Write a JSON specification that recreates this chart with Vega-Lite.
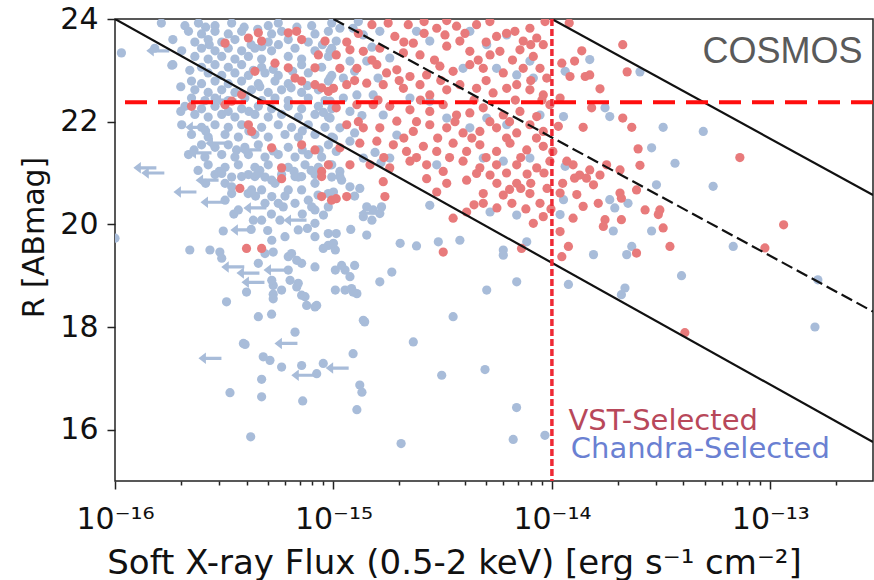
{
  "$schema": "https://vega.github.io/schema/vega-lite/v6.json",
  "width": 758,
  "height": 462,
  "autosize": "none",
  "padding": {"left": 115, "top": 19, "right": 1, "bottom": 99},
  "background": "white",
  "config": {
    "view": {"stroke": "#222222", "strokeWidth": 1.5},
    "axis": {"domain": false, "grid": false, "tickColor": "#222222", "tickWidth": 1.5, "labelFont": "DejaVu Sans", "titleFont": "DejaVu Sans", "labelColor": "#111111", "titleColor": "#111111", "titleFontWeight": "normal"}
  },
  "datasets": {
    "pts": [
      {"f":1.63e-16,"r":23.92,"s":"b"},{"f":2.09e-16,"r":23.87,"s":"b"},{"f":2.41e-16,"r":23.92,"s":"b"},{"f":2.87e-16,"r":23.87,"s":"b"},{"f":3.42e-16,"r":23.92,"s":"b"},{"f":5.03e-16,"r":23.87,"s":"b"},{"f":5.59e-16,"r":23.92,"s":"b"},{"f":7.95e-16,"r":23.87,"s":"b"},{"f":9.82e-16,"r":23.92,"s":"b"},
      {"f":2.17e-16,"r":23.76,"s":"b"},{"f":2.49e-16,"r":23.71,"s":"b"},{"f":2.87e-16,"r":23.76,"s":"b"},{"f":3.30e-16,"r":23.71,"s":"b"},{"f":3.80e-16,"r":23.76,"s":"b"},{"f":5.21e-16,"r":23.71,"s":"b"},{"f":5.79e-16,"r":23.76,"s":"b"},{"f":8.23e-16,"r":23.71,"s":"b"},{"f":9.48e-16,"r":23.76,"s":"b"},
      {"f":1.84e-16,"r":23.60,"s":"b"},{"f":2.32e-16,"r":23.55,"s":"b"},{"f":2.67e-16,"r":23.60,"s":"b"},{"f":3.08e-16,"r":23.55,"s":"b"},{"f":3.54e-16,"r":23.60,"s":"b"},{"f":5.03e-16,"r":23.55,"s":"b"},{"f":6.21e-16,"r":23.60,"s":"b"},{"f":7.67e-16,"r":23.55,"s":"b"},
      {"f":1.52e-16,"r":23.43,"s":"b"},{"f":2.02e-16,"r":23.38,"s":"b"},{"f":2.49e-16,"r":23.43,"s":"b"},{"f":2.87e-16,"r":23.38,"s":"b"},{"f":3.30e-16,"r":23.43,"s":"b"},{"f":3.80e-16,"r":23.38,"s":"b"},{"f":4.37e-16,"r":23.43,"s":"b"},{"f":5.21e-16,"r":23.38,"s":"b"},{"f":6.67e-16,"r":23.43,"s":"b"},{"f":8.23e-16,"r":23.38,"s":"b"},{"f":9.82e-16,"r":23.43,"s":"b"},
      {"f":2.32e-16,"r":23.27,"s":"b"},{"f":2.67e-16,"r":23.22,"s":"b"},{"f":3.08e-16,"r":23.27,"s":"b"},{"f":3.54e-16,"r":23.22,"s":"b"},{"f":4.08e-16,"r":23.27,"s":"b"},{"f":4.69e-16,"r":23.22,"s":"b"},{"f":6.21e-16,"r":23.27,"s":"b"},{"f":7.15e-16,"r":23.22,"s":"b"},{"f":9.48e-16,"r":23.27,"s":"b"},
      {"f":1.84e-16,"r":23.11,"s":"b"},{"f":2.49e-16,"r":23.06,"s":"b"},{"f":2.87e-16,"r":23.11,"s":"b"},{"f":3.30e-16,"r":23.06,"s":"b"},{"f":3.80e-16,"r":23.11,"s":"b"},{"f":4.69e-16,"r":23.06,"s":"b"},{"f":7.15e-16,"r":23.11,"s":"b"},{"f":8.83e-16,"r":23.06,"s":"b"},
      {"f":2.67e-16,"r":22.95,"s":"b"},{"f":3.08e-16,"r":22.90,"s":"b"},{"f":3.54e-16,"r":22.95,"s":"b"},{"f":4.08e-16,"r":22.90,"s":"b"},{"f":4.86e-16,"r":22.95,"s":"b"},{"f":5.59e-16,"r":22.90,"s":"b"},{"f":7.67e-16,"r":22.95,"s":"b"},{"f":9.82e-16,"r":22.90,"s":"b"},
      {"f":2.24e-16,"r":22.79,"s":"b"},{"f":2.49e-16,"r":22.74,"s":"b"},{"f":2.87e-16,"r":22.79,"s":"b"},{"f":3.30e-16,"r":22.74,"s":"b"},{"f":3.80e-16,"r":22.79,"s":"b"},{"f":4.53e-16,"r":22.74,"s":"b"},{"f":5.40e-16,"r":22.79,"s":"b"},{"f":6.21e-16,"r":22.74,"s":"b"},{"f":9.48e-16,"r":22.79,"s":"b"},
      {"f":2.32e-16,"r":22.62,"s":"b"},{"f":2.67e-16,"r":22.57,"s":"b"},{"f":3.08e-16,"r":22.62,"s":"b"},{"f":3.54e-16,"r":22.57,"s":"b"},{"f":4.22e-16,"r":22.62,"s":"b"},{"f":5.03e-16,"r":22.57,"s":"b"},{"f":5.79e-16,"r":22.62,"s":"b"},{"f":7.15e-16,"r":22.57,"s":"b"},{"f":8.53e-16,"r":22.62,"s":"b"},
      {"f":2.24e-16,"r":22.46,"s":"b"},{"f":2.58e-16,"r":22.41,"s":"b"},{"f":2.87e-16,"r":22.46,"s":"b"},{"f":3.30e-16,"r":22.41,"s":"b"},{"f":3.93e-16,"r":22.46,"s":"b"},{"f":4.69e-16,"r":22.41,"s":"b"},{"f":5.40e-16,"r":22.46,"s":"b"},{"f":6.21e-16,"r":22.41,"s":"b"},{"f":7.67e-16,"r":22.46,"s":"b"},{"f":9.15e-16,"r":22.41,"s":"b"},
      {"f":2.09e-16,"r":22.30,"s":"b"},{"f":2.49e-16,"r":22.25,"s":"b"},{"f":2.87e-16,"r":22.30,"s":"b"},{"f":3.80e-16,"r":22.25,"s":"b"},{"f":4.53e-16,"r":22.30,"s":"b"},{"f":5.21e-16,"r":22.25,"s":"b"},{"f":6.21e-16,"r":22.30,"s":"b"},{"f":7.15e-16,"r":22.25,"s":"b"},{"f":8.53e-16,"r":22.30,"s":"b"},{"f":9.82e-16,"r":22.25,"s":"b"},
      {"f":2.32e-16,"r":22.14,"s":"b"},{"f":2.67e-16,"r":22.09,"s":"b"},{"f":3.08e-16,"r":22.14,"s":"b"},{"f":3.54e-16,"r":22.09,"s":"b"},{"f":4.37e-16,"r":22.14,"s":"b"},{"f":5.03e-16,"r":22.09,"s":"b"},{"f":5.79e-16,"r":22.14,"s":"b"},{"f":6.91e-16,"r":22.09,"s":"b"},{"f":8.23e-16,"r":22.14,"s":"b"},{"f":9.48e-16,"r":22.09,"s":"b"},
      {"f":2.02e-16,"r":21.94,"s":"b"},{"f":2.49e-16,"r":21.89,"s":"b"},{"f":2.87e-16,"r":21.94,"s":"b"},{"f":3.30e-16,"r":21.89,"s":"b"},{"f":3.80e-16,"r":21.94,"s":"b"},{"f":4.69e-16,"r":21.89,"s":"b"},{"f":5.59e-16,"r":21.94,"s":"b"},{"f":6.43e-16,"r":21.89,"s":"b"},{"f":7.67e-16,"r":21.94,"s":"b"},{"f":9.15e-16,"r":21.89,"s":"b"},
      {"f":2.24e-16,"r":21.75,"s":"b"},{"f":2.67e-16,"r":21.70,"s":"b"},{"f":3.19e-16,"r":21.75,"s":"b"},{"f":3.67e-16,"r":21.70,"s":"b"},{"f":4.37e-16,"r":21.75,"s":"b"},{"f":5.03e-16,"r":21.70,"s":"b"},{"f":6.00e-16,"r":21.75,"s":"b"},{"f":6.91e-16,"r":21.70,"s":"b"},{"f":8.23e-16,"r":21.75,"s":"b"},{"f":9.82e-16,"r":21.70,"s":"b"},
      {"f":2.49e-16,"r":21.55,"s":"b"},{"f":2.87e-16,"r":21.50,"s":"b"},{"f":3.30e-16,"r":21.55,"s":"b"},{"f":3.93e-16,"r":21.50,"s":"b"},{"f":4.53e-16,"r":21.55,"s":"b"},{"f":6.21e-16,"r":21.50,"s":"b"},{"f":9.48e-16,"r":21.55,"s":"b"},
      {"f":2.17e-16,"r":21.36,"s":"b"},{"f":2.58e-16,"r":21.31,"s":"b"},{"f":3.08e-16,"r":21.36,"s":"b"},{"f":3.54e-16,"r":21.31,"s":"b"},{"f":4.08e-16,"r":21.36,"s":"b"},{"f":4.86e-16,"r":21.31,"s":"b"},{"f":5.59e-16,"r":21.36,"s":"b"},{"f":6.67e-16,"r":21.31,"s":"b"},{"f":7.67e-16,"r":21.36,"s":"b"},{"f":8.83e-16,"r":21.31,"s":"b"},
      {"f":2.67e-16,"r":21.16,"s":"b"},{"f":3.19e-16,"r":21.11,"s":"b"},{"f":3.67e-16,"r":21.16,"s":"b"},{"f":4.37e-16,"r":21.11,"s":"b"},{"f":5.03e-16,"r":21.16,"s":"b"},{"f":6.21e-16,"r":21.11,"s":"b"},{"f":7.41e-16,"r":21.16,"s":"b"},{"f":8.53e-16,"r":21.11,"s":"b"},{"f":9.82e-16,"r":21.16,"s":"b"},
      {"f":2.87e-16,"r":20.97,"s":"b"},{"f":3.42e-16,"r":20.92,"s":"b"},{"f":4.08e-16,"r":20.97,"s":"b"},{"f":4.86e-16,"r":20.92,"s":"b"},{"f":5.79e-16,"r":20.97,"s":"b"},{"f":6.91e-16,"r":20.92,"s":"b"},{"f":8.23e-16,"r":20.97,"s":"b"},{"f":9.82e-16,"r":20.92,"s":"b"},
      {"f":2.6e-16,"r":23.84,"s":"b"},{"f":3.9e-16,"r":23.84,"s":"b"},{"f":4.5e-16,"r":23.8,"s":"b"},{"f":6.8e-16,"r":23.84,"s":"b"},{"f":2.7e-16,"r":23.5,"s":"b"},{"f":4.2e-16,"r":23.5,"s":"b"},{"f":4.7e-16,"r":23.46,"s":"b"},{"f":5.6e-16,"r":23.5,"s":"b"},{"f":8.9e-16,"r":23.5,"s":"b"},{"f":2.2e-16,"r":23.0,"s":"b"},{"f":4.3e-16,"r":23.0,"s":"b"},{"f":5.3e-16,"r":23.02,"s":"b"},{"f":6.5e-16,"r":22.98,"s":"b"},{"f":2.0e-16,"r":22.68,"s":"b"},{"f":4.6e-16,"r":22.68,"s":"b"},{"f":6.4e-16,"r":22.66,"s":"b"},{"f":7.6e-16,"r":22.7,"s":"b"},{"f":2.0e-16,"r":22.2,"s":"b"},{"f":3.3e-16,"r":22.2,"s":"b"},{"f":4.1e-16,"r":22.2,"s":"b"},{"f":9.0e-16,"r":22.18,"s":"b"},{"f":2.6e-16,"r":21.82,"s":"b"},{"f":4.1e-16,"r":21.82,"s":"b"},{"f":7.2e-16,"r":21.82,"s":"b"},{"f":2.3e-16,"r":21.45,"s":"b"},{"f":3.6e-16,"r":21.45,"s":"b"},{"f":5.3e-16,"r":21.43,"s":"b"},{"f":7.2e-16,"r":21.45,"s":"b"},{"f":8.6e-16,"r":21.45,"s":"b"},{"f":2.4e-16,"r":21.05,"s":"b"},{"f":3.0e-16,"r":21.03,"s":"b"},{"f":4.6e-16,"r":21.05,"s":"b"},{"f":6.6e-16,"r":21.03,"s":"b"},{"f":7.9e-16,"r":21.05,"s":"b"},{"f":2.6e-16,"r":20.8,"s":"b"},
      {"f":3.5e-16,"r":20.2,"s":"b"},{"f":5.2e-16,"r":20.2,"s":"b"},{"f":7.2e-16,"r":20.2,"s":"b"},{"f":9.0e-16,"r":20.18,"s":"b"},{"f":4.2e-16,"r":19.9,"s":"b"},{"f":5.0e-16,"r":19.88,"s":"b"},{"f":7.6e-16,"r":19.92,"s":"b"},{"f":1.2e-15,"r":19.9,"s":"b"},{"f":4.4e-16,"r":20.55,"s":"b"},{"f":6.0e-16,"r":20.55,"s":"b"},{"f":8.5e-16,"r":20.57,"s":"b"},{"f":1.25e-15,"r":20.55,"s":"b"},{"f":1.65e-15,"r":21.2,"s":"b"},
      {"f":1.07e-16,"r":23.34,"s":"b"},{"f":1.0e-16,"r":19.73,"s":"b"},{"f":1.82e-16,"r":23.10,"s":"b"},
      {"f":1.07e-15,"r":23.82,"s":"b"},{"f":1.23e-15,"r":23.82,"s":"b"},{"f":1.03e-15,"r":23.57,"s":"b"},{"f":1.37e-15,"r":23.69,"s":"b"},{"f":1.63e-15,"r":23.76,"s":"b"},{"f":1.19e-15,"r":23.18,"s":"b"},{"f":1.42e-15,"r":23.18,"s":"b"},{"f":9.65e-16,"r":22.85,"s":"b"},{"f":1.11e-15,"r":22.85,"s":"b"},{"f":1.28e-15,"r":22.52,"s":"b"},{"f":1.52e-15,"r":22.52,"s":"b"},{"f":1.81e-15,"r":23.24,"s":"b"},{"f":2.40e-15,"r":23.76,"s":"b"},{"f":2.76e-15,"r":23.57,"s":"b"},{"f":3.92e-15,"r":23.04,"s":"b"},{"f":5.03e-15,"r":23.50,"s":"b"},{"f":6.21e-15,"r":23.69,"s":"b"},{"f":6.90e-15,"r":22.91,"s":"b"},{"f":7.93e-15,"r":23.18,"s":"b"},{"f":2.24e-15,"r":22.46,"s":"b"},{"f":2.76e-15,"r":22.40,"s":"b"},{"f":1.69e-15,"r":22.13,"s":"b"},{"f":1.07e-15,"r":21.88,"s":"b"},{"f":9.65e-16,"r":22.40,"s":"b"},{"f":1.95e-15,"r":21.74,"s":"b"},{"f":3.30e-15,"r":22.07,"s":"b"},{"f":4.21e-15,"r":21.88,"s":"b"},{"f":5.03e-15,"r":22.07,"s":"b"},{"f":6.21e-15,"r":21.94,"s":"b"},{"f":1.37e-15,"r":21.29,"s":"b"},{"f":1.81e-15,"r":21.29,"s":"b"},{"f":2.97e-15,"r":21.16,"s":"b"},{"f":4.85e-15,"r":21.29,"s":"b"},{"f":5.99e-15,"r":21.23,"s":"b"},{"f":7.93e-15,"r":21.29,"s":"b"},{"f":8.82e-15,"r":22.13,"s":"b"},{"f":8.22e-15,"r":22.85,"s":"b"},{"f":5.58e-15,"r":23.04,"s":"b"},{"f":4.21e-15,"r":23.76,"s":"b"},{"f":1.03e-15,"r":21.42,"s":"b"},
      {"f":9.65e-16,"r":23.37,"s":"b"},{"f":1.11e-15,"r":22.46,"s":"b"},{"f":9.65e-16,"r":22.07,"s":"b"},{"f":1.19e-15,"r":22.20,"s":"b"},{"f":1.0e-15,"r":21.68,"s":"b"},{"f":1.19e-15,"r":21.62,"s":"b"},{"f":9.65e-16,"r":21.16,"s":"b"},{"f":1.07e-15,"r":21.03,"s":"b"},{"f":1.3e-15,"r":23.95,"s":"b"},{"f":1.5e-15,"r":23.45,"s":"b"},{"f":1.25e-15,"r":22.98,"s":"b"},{"f":1.6e-15,"r":22.85,"s":"b"},{"f":1.35e-15,"r":22.12,"s":"b"},{"f":1.25e-15,"r":21.78,"s":"b"},{"f":1.55e-15,"r":21.4,"s":"b"},
      {"f":3.67e-16,"r":20.28,"s":"b"},{"f":4.30e-16,"r":20.08,"s":"b"},{"f":4.69e-16,"r":20.08,"s":"b"},{"f":5.69e-16,"r":20.08,"s":"b"},{"f":3.13e-16,"r":19.87,"s":"b"},{"f":2.20e-16,"r":19.50,"s":"b"},{"f":2.72e-16,"r":19.50,"s":"b"},{"f":3.02e-16,"r":19.46,"s":"b"},{"f":3.08e-16,"r":19.34,"s":"b"},{"f":5.30e-16,"r":19.46,"s":"b"},{"f":5.89e-16,"r":20.34,"s":"b"},{"f":8.23e-16,"r":19.17,"s":"b"},{"f":1.02e-15,"r":19.50,"s":"b"},{"f":9.47e-16,"r":19.59,"s":"b"},{"f":6.21e-16,"r":19.37,"s":"b"},{"f":6.79e-16,"r":19.30,"s":"b"},{"f":6.33e-16,"r":18.91,"s":"b"},{"f":6.79e-16,"r":18.78,"s":"b"},{"f":5.30e-16,"r":18.81,"s":"b"},{"f":5.30e-16,"r":18.64,"s":"b"},{"f":8.98e-16,"r":19.53,"s":"b"},
      {"f":3.08e-16,"r":20.99,"s":"b"},{"f":3.19e-16,"r":20.80,"s":"b"},{"f":3.42e-16,"r":20.60,"s":"b"},{"f":4.07e-16,"r":20.60,"s":"b"},{"f":4.69e-16,"r":20.67,"s":"b"},{"f":5.22e-16,"r":20.86,"s":"b"},{"f":4.37e-16,"r":20.93,"s":"b"},{"f":7.15e-16,"r":20.67,"s":"b"},{"f":7.67e-16,"r":20.47,"s":"b"},{"f":8.23e-16,"r":20.28,"s":"b"},{"f":6.67e-16,"r":20.93,"s":"b"},{"f":4.86e-16,"r":20.41,"s":"b"},{"f":5.59e-16,"r":20.41,"s":"b"},{"f":3.19e-16,"r":20.47,"s":"b"},{"f":8.23e-16,"r":19.76,"s":"b"},{"f":9.47e-16,"r":19.82,"s":"b"},{"f":1.0e-15,"r":19.63,"s":"b"},{"f":1.02e-15,"r":19.11,"s":"b"},{"f":1.13e-15,"r":19.11,"s":"b"},{"f":1.02e-15,"r":18.72,"s":"b"},{"f":1.13e-15,"r":18.72,"s":"b"},
      {"f":3.80e-16,"r":20.93,"s":"b"},{"f":4.53e-16,"r":20.99,"s":"b"},{"f":5.40e-16,"r":20.80,"s":"b"},{"f":6.21e-16,"r":20.67,"s":"b"},{"f":7.15e-16,"r":20.93,"s":"b"},{"f":8.23e-16,"r":20.80,"s":"b"},{"f":9.47e-16,"r":20.60,"s":"b"},{"f":1.09e-15,"r":20.86,"s":"b"},{"f":3.42e-16,"r":20.73,"s":"b"},{"f":4.22e-16,"r":20.67,"s":"b"},{"f":5.22e-16,"r":20.54,"s":"b"},{"f":6.67e-16,"r":20.41,"s":"b"},{"f":7.95e-16,"r":20.34,"s":"b"},{"f":9.47e-16,"r":20.34,"s":"b"},{"f":8.23e-16,"r":20.02,"s":"b"},{"f":6.90e-16,"r":19.89,"s":"b"},{"f":6.00e-16,"r":19.76,"s":"b"},{"f":5.22e-16,"r":19.69,"s":"b"},{"f":6.43e-16,"r":19.43,"s":"b"},{"f":7.15e-16,"r":19.24,"s":"b"},{"f":6.21e-16,"r":19.11,"s":"b"},{"f":5.22e-16,"r":18.91,"s":"b"},{"f":5.79e-16,"r":18.72,"s":"b"},{"f":6.90e-16,"r":18.85,"s":"b"},{"f":7.41e-16,"r":18.59,"s":"b"},{"f":8.23e-16,"r":18.39,"s":"b"},{"f":4.53e-16,"r":19.24,"s":"b"},{"f":4.86e-16,"r":19.43,"s":"b"},
      {"f":1.07e-15,"r":20.93,"s":"b"},{"f":1.19e-15,"r":20.73,"s":"b"},{"f":1.32e-15,"r":20.70,"s":"b"},{"f":1.0e-15,"r":20.63,"s":"b"},{"f":1.42e-15,"r":20.34,"s":"b"},{"f":1.52e-15,"r":20.28,"s":"b"},{"f":1.63e-15,"r":20.21,"s":"b"},{"f":1.37e-15,"r":20.15,"s":"b"},{"f":1.50e-15,"r":20.08,"s":"b"},{"f":1.66e-15,"r":20.34,"s":"b"},{"f":1.03e-15,"r":19.82,"s":"b"},{"f":1.42e-15,"r":19.79,"s":"b"},{"f":2.02e-15,"r":19.63,"s":"b"},{"f":2.40e-15,"r":19.58,"s":"b"},{"f":3.02e-15,"r":19.66,"s":"b"},{"f":3.79e-15,"r":19.69,"s":"b"},{"f":2.76e-15,"r":20.37,"s":"b"},{"f":5.99e-15,"r":19.50,"s":"b"},{"f":5.99e-15,"r":19.40,"s":"b"},{"f":5.21e-15,"r":20.24,"s":"b"},{"f":6.90e-15,"r":20.18,"s":"b"},{"f":7.67e-15,"r":19.66,"s":"b"},{"f":1.09e-15,"r":19.20,"s":"b"},{"f":1.25e-15,"r":19.20,"s":"b"},{"f":1.19e-15,"r":18.98,"s":"b"},{"f":1.85e-15,"r":19.07,"s":"b"},{"f":1.63e-15,"r":18.88,"s":"b"},{"f":1.21e-15,"r":18.75,"s":"b"},{"f":1.28e-15,"r":18.65,"s":"b"},{"f":6.90e-15,"r":18.88,"s":"b"},{"f":5.03e-15,"r":18.72,"s":"b"},{"f":1.37e-15,"r":18.13,"s":"b"},
      {"f":1.39e-15,"r":18.10,"s":"b"},{"f":6.67e-16,"r":17.90,"s":"b"},{"f":3.87e-16,"r":17.68,"s":"b"},{"f":2.32e-15,"r":17.71,"s":"b"},{"f":1.23e-15,"r":17.48,"s":"b"},{"f":4.77e-16,"r":17.42,"s":"b"},{"f":5.12e-16,"r":17.35,"s":"b"},{"f":5.79e-16,"r":17.22,"s":"b"},{"f":7.15e-16,"r":17.25,"s":"b"},{"f":8.38e-16,"r":17.09,"s":"b"},{"f":8.98e-16,"r":17.29,"s":"b"},{"f":4.94e-15,"r":17.17,"s":"b"},{"f":4.69e-16,"r":16.98,"s":"b"},{"f":1.32e-15,"r":16.87,"s":"b"},{"f":1.35e-15,"r":16.73,"s":"b"},{"f":3.36e-16,"r":16.72,"s":"b"},{"f":4.69e-16,"r":16.64,"s":"b"},{"f":7.23e-16,"r":16.56,"s":"b"},{"f":1.28e-15,"r":16.39,"s":"b"},{"f":4.18e-16,"r":15.86,"s":"b"},{"f":2.04e-15,"r":15.73,"s":"b"},
      {"f":3.53e-15,"r":18.20,"s":"b"},{"f":6.89e-15,"r":16.43,"s":"b"},{"f":6.65e-15,"r":15.81,"s":"b"},{"f":9.29e-15,"r":15.89,"s":"b"},{"f":3.13e-15,"r":17.06,"s":"b"},
      {"f":3.24e-16,"r":18.49,"s":"b"},{"f":4.0e-16,"r":18.68,"s":"b"},{"f":5.3e-16,"r":18.55,"s":"b"},{"f":7.15e-16,"r":18.62,"s":"b"},{"f":7.54e-16,"r":18.42,"s":"b"},{"f":8.38e-16,"r":18.42,"s":"b"},{"f":1.23e-15,"r":18.68,"s":"b"},{"f":4.53e-16,"r":18.20,"s":"b"},{"f":5.21e-16,"r":18.25,"s":"b"},{"f":3.94e-16,"r":17.66,"s":"b"},
      {"f":1.49e-14,"r":23.21,"s":"b"},{"f":2.53e-14,"r":22.97,"s":"b"},{"f":1.15e-14,"r":22.98,"s":"b"},{"f":1.75e-14,"r":22.27,"s":"b"},{"f":1.84e-14,"r":22.10,"s":"b"},{"f":1.13e-14,"r":22.10,"s":"b"},{"f":3.23e-14,"r":21.89,"s":"b"},{"f":4.93e-14,"r":21.81,"s":"b"},{"f":2.86e-14,"r":21.49,"s":"b"},{"f":3.66e-14,"r":21.19,"s":"b"},{"f":1.15e-14,"r":21.13,"s":"b"},{"f":5.47e-14,"r":20.74,"s":"b"},{"f":3.01e-14,"r":20.77,"s":"b"},{"f":1.13e-14,"r":20.48,"s":"b"},{"f":1.84e-14,"r":20.48,"s":"b"},{"f":1.94e-14,"r":20.32,"s":"b"},{"f":2.23e-14,"r":20.41,"s":"b"},{"f":1.09e-14,"r":20.19,"s":"b"},{"f":1.91e-14,"r":19.87,"s":"b"},{"f":2.86e-14,"r":19.87,"s":"b"},{"f":2.32e-14,"r":19.57,"s":"b"},{"f":2.20e-14,"r":19.41,"s":"b"},{"f":1.55e-14,"r":19.41,"s":"b"},{"f":6.76e-14,"r":19.57,"s":"b"},{"f":3.92e-14,"r":19.0,"s":"b"},{"f":1.19e-14,"r":18.83,"s":"b"},{"f":2.16e-14,"r":18.76,"s":"b"},{"f":2.08e-14,"r":18.63,"s":"b"},{"f":1.65e-13,"r":18.92,"s":"b"},{"f":1.6e-13,"r":18.0,"s":"b"},
      {"f":3.19e-16,"r":23.53,"s":"r"},{"f":4.08e-16,"r":23.63,"s":"r"},{"f":4.53e-16,"r":23.73,"s":"r"},{"f":4.69e-16,"r":23.57,"s":"r"},{"f":6.21e-16,"r":23.73,"s":"r"},{"f":6.78e-16,"r":23.76,"s":"r"},{"f":7.15e-16,"r":23.60,"s":"r"},{"f":8.53e-16,"r":23.30,"s":"r"},{"f":9.15e-16,"r":23.57,"s":"r"},{"f":5.40e-16,"r":23.14,"s":"r"},{"f":6.21e-16,"r":23.05,"s":"r"},{"f":8.23e-16,"r":23.05,"s":"r"},{"f":4.37e-16,"r":22.98,"s":"r"},{"f":6.67e-16,"r":22.85,"s":"r"},{"f":7.15e-16,"r":22.79,"s":"r"},{"f":8.23e-16,"r":22.72,"s":"r"},{"f":8.83e-16,"r":22.66,"s":"r"},{"f":9.48e-16,"r":22.59,"s":"r"},{"f":3.42e-16,"r":22.40,"s":"r"},{"f":3.19e-16,"r":22.33,"s":"r"},{"f":2.24e-16,"r":22.30,"s":"r"},{"f":4.08e-16,"r":21.94,"s":"r"},{"f":4.22e-16,"r":21.81,"s":"r"},{"f":7.15e-16,"r":21.55,"s":"r"},{"f":8.23e-16,"r":21.45,"s":"r"},{"f":5.21e-16,"r":21.49,"s":"r"},{"f":5.79e-16,"r":21.10,"s":"r"},{"f":8.83e-16,"r":21.03,"s":"r"},{"f":9.48e-16,"r":21.16,"s":"r"},{"f":3.80e-16,"r":22.53,"s":"r"},
      {"f":1.50e-15,"r":23.89,"s":"r"},{"f":1.78e-15,"r":23.92,"s":"r"},{"f":2.20e-15,"r":23.89,"s":"r"},{"f":2.97e-15,"r":23.82,"s":"r"},{"f":3.24e-15,"r":23.69,"s":"r"},{"f":3.66e-15,"r":23.86,"s":"r"},{"f":4.52e-15,"r":23.89,"s":"r"},{"f":5.58e-15,"r":23.66,"s":"r"},{"f":6.77e-15,"r":23.76,"s":"r"},{"f":7.93e-15,"r":23.82,"s":"r"},{"f":8.52e-15,"r":23.63,"s":"r"},{"f":2.32e-15,"r":23.53,"s":"r"},{"f":1.91e-15,"r":23.66,"s":"r"},
      {"f":1.15e-15,"r":23.55,"s":"r"},{"f":2.1e-15,"r":23.55,"s":"r"},{"f":5.0e-15,"r":23.55,"s":"r"},{"f":8.0e-15,"r":23.5,"s":"r"},{"f":2.6e-15,"r":23.95,"s":"r"},{"f":3.3e-15,"r":23.97,"s":"r"},{"f":5.2e-15,"r":23.95,"s":"r"},{"f":9.3e-15,"r":23.95,"s":"r"},{"f":1.2e-14,"r":23.92,"s":"r"},{"f":6.2e-15,"r":21.0,"s":"r"},{"f":7.7e-15,"r":20.98,"s":"r"},{"f":9.2e-15,"r":21.0,"s":"r"},{"f":7.2e-15,"r":20.7,"s":"r"},{"f":9.5e-15,"r":20.7,"s":"r"},{"f":6.4e-15,"r":20.68,"s":"r"},{"f":7.6e-15,"r":20.3,"s":"r"},{"f":9.9e-15,"r":20.3,"s":"r"},{"f":5.6e-15,"r":20.32,"s":"r"},
      {"f":1.03e-15,"r":23.30,"s":"r"},{"f":1.19e-15,"r":23.40,"s":"r"},{"f":1.37e-15,"r":23.37,"s":"r"},{"f":1.63e-15,"r":23.43,"s":"r"},{"f":2.09e-15,"r":23.34,"s":"r"},{"f":2.49e-15,"r":23.30,"s":"r"},{"f":3.30e-15,"r":23.47,"s":"r"},{"f":3.79e-15,"r":23.57,"s":"r"},{"f":4.21e-15,"r":23.37,"s":"r"},{"f":5.21e-15,"r":23.30,"s":"r"},{"f":5.78e-15,"r":23.37,"s":"r"},{"f":7.14e-15,"r":23.40,"s":"r"},{"f":8.22e-15,"r":23.27,"s":"r"},{"f":9.13e-15,"r":23.50,"s":"r"},{"f":7.39e-15,"r":23.57,"s":"r"},
      {"f":1.07e-15,"r":23.04,"s":"r"},{"f":1.28e-15,"r":23.04,"s":"r"},{"f":1.58e-15,"r":23.11,"s":"r"},{"f":1.75e-15,"r":22.95,"s":"r"},{"f":1.95e-15,"r":23.01,"s":"r"},{"f":2.24e-15,"r":22.88,"s":"r"},{"f":2.67e-15,"r":22.91,"s":"r"},{"f":3.07e-15,"r":23.08,"s":"r"},{"f":3.53e-15,"r":22.98,"s":"r"},{"f":4.21e-15,"r":23.11,"s":"r"},{"f":4.85e-15,"r":23.04,"s":"r"},{"f":5.99e-15,"r":22.95,"s":"r"},{"f":7.39e-15,"r":23.04,"s":"r"},{"f":8.82e-15,"r":23.04,"s":"r"},{"f":9.47e-15,"r":22.85,"s":"r"},
      {"f":1.0e-15,"r":22.65,"s":"r"},{"f":1.15e-15,"r":22.72,"s":"r"},{"f":1.42e-15,"r":22.75,"s":"r"},{"f":1.69e-15,"r":22.72,"s":"r"},{"f":2.09e-15,"r":22.65,"s":"r"},{"f":2.49e-15,"r":22.72,"s":"r"},{"f":2.76e-15,"r":22.52,"s":"r"},{"f":3.30e-15,"r":22.62,"s":"r"},{"f":3.79e-15,"r":22.72,"s":"r"},{"f":4.52e-15,"r":22.65,"s":"r"},{"f":5.38e-15,"r":22.56,"s":"r"},{"f":6.21e-15,"r":22.65,"s":"r"},{"f":6.90e-15,"r":22.72,"s":"r"},{"f":7.93e-15,"r":22.62,"s":"r"},{"f":9.13e-15,"r":22.52,"s":"r"},
      {"f":1.03e-15,"r":22.27,"s":"r"},{"f":1.28e-15,"r":22.33,"s":"r"},{"f":1.52e-15,"r":22.33,"s":"r"},{"f":1.81e-15,"r":22.30,"s":"r"},{"f":2.24e-15,"r":22.23,"s":"r"},{"f":2.76e-15,"r":22.20,"s":"r"},{"f":3.18e-15,"r":22.33,"s":"r"},{"f":3.66e-15,"r":22.13,"s":"r"},{"f":4.21e-15,"r":22.17,"s":"r"},{"f":4.85e-15,"r":22.27,"s":"r"},{"f":5.99e-15,"r":22.13,"s":"r"},{"f":7.14e-15,"r":22.20,"s":"r"},{"f":8.52e-15,"r":22.10,"s":"r"},{"f":9.79e-15,"r":22.33,"s":"r"},
      {"f":1.15e-15,"r":21.94,"s":"r"},{"f":1.37e-15,"r":21.88,"s":"r"},{"f":1.63e-15,"r":21.88,"s":"r"},{"f":1.95e-15,"r":22.01,"s":"r"},{"f":2.32e-15,"r":21.81,"s":"r"},{"f":2.76e-15,"r":21.94,"s":"r"},{"f":3.30e-15,"r":21.88,"s":"r"},{"f":3.92e-15,"r":21.78,"s":"r"},{"f":4.68e-15,"r":21.81,"s":"r"},{"f":5.58e-15,"r":21.88,"s":"r"},{"f":6.90e-15,"r":21.78,"s":"r"},{"f":7.93e-15,"r":21.94,"s":"r"},{"f":9.13e-15,"r":21.81,"s":"r"},
      {"f":1.07e-15,"r":21.49,"s":"r"},{"f":1.32e-15,"r":21.58,"s":"r"},{"f":1.58e-15,"r":21.62,"s":"r"},{"f":1.88e-15,"r":21.55,"s":"r"},{"f":2.16e-15,"r":21.42,"s":"r"},{"f":2.58e-15,"r":21.52,"s":"r"},{"f":2.97e-15,"r":21.42,"s":"r"},{"f":3.53e-15,"r":21.58,"s":"r"},{"f":4.07e-15,"r":21.42,"s":"r"},{"f":4.68e-15,"r":21.55,"s":"r"},{"f":5.58e-15,"r":21.42,"s":"r"},{"f":6.43e-15,"r":21.58,"s":"r"},{"f":7.67e-15,"r":21.45,"s":"r"},{"f":9.13e-15,"r":21.52,"s":"r"},{"f":1.01e-14,"r":21.42,"s":"r"},
      {"f":1.19e-15,"r":21.16,"s":"r"},{"f":1.47e-15,"r":21.16,"s":"r"},{"f":1.81e-15,"r":21.10,"s":"r"},{"f":2.24e-15,"r":21.23,"s":"r"},{"f":2.67e-15,"r":21.16,"s":"r"},{"f":3.18e-15,"r":21.03,"s":"r"},{"f":3.92e-15,"r":21.23,"s":"r"},{"f":4.68e-15,"r":21.10,"s":"r"},{"f":5.58e-15,"r":21.16,"s":"r"},{"f":6.90e-15,"r":21.16,"s":"r"},{"f":8.52e-15,"r":21.10,"s":"r"},{"f":9.79e-15,"r":21.23,"s":"r"},
      {"f":1.3e-15,"r":23.72,"s":"r"},{"f":2.6e-15,"r":23.72,"s":"r"},{"f":4.0e-15,"r":23.72,"s":"r"},{"f":6.2e-15,"r":23.72,"s":"r"},{"f":1.5e-15,"r":23.2,"s":"r"},{"f":2.9e-15,"r":23.2,"s":"r"},{"f":4.6e-15,"r":23.2,"s":"r"},{"f":6.6e-15,"r":23.2,"s":"r"},{"f":1.25e-15,"r":22.8,"s":"r"},{"f":2.0e-15,"r":22.8,"s":"r"},{"f":3.1e-15,"r":22.8,"s":"r"},{"f":5.0e-15,"r":22.8,"s":"r"},{"f":8.0e-15,"r":22.8,"s":"r"},{"f":1.6e-15,"r":22.42,"s":"r"},{"f":2.5e-15,"r":22.42,"s":"r"},{"f":4.4e-15,"r":22.42,"s":"r"},{"f":6.8e-15,"r":22.42,"s":"r"},{"f":9.0e-15,"r":22.42,"s":"r"},{"f":1.3e-15,"r":22.0,"s":"r"},{"f":2.4e-15,"r":22.0,"s":"r"},{"f":3.6e-15,"r":22.0,"s":"r"},{"f":5.2e-15,"r":22.0,"s":"r"},{"f":6.4e-15,"r":22.0,"s":"r"},{"f":2.1e-15,"r":21.68,"s":"r"},{"f":3.0e-15,"r":21.68,"s":"r"},{"f":4.3e-15,"r":21.68,"s":"r"},{"f":6.2e-15,"r":21.68,"s":"r"},{"f":8.5e-15,"r":21.68,"s":"r"},{"f":1.7e-15,"r":21.3,"s":"r"},{"f":2.4e-15,"r":21.3,"s":"r"},{"f":3.4e-15,"r":21.3,"s":"r"},{"f":5.0e-15,"r":21.3,"s":"r"},{"f":7.2e-15,"r":21.3,"s":"r"},{"f":3.3e-15,"r":20.8,"s":"r"},{"f":5.6e-15,"r":20.8,"s":"r"},{"f":8.0e-15,"r":20.8,"s":"r"},{"f":1.12e-14,"r":20.8,"s":"r"},
      {"f":3.73e-16,"r":20.70,"s":"r"},{"f":4.00e-16,"r":19.53,"s":"r"},{"f":4.69e-16,"r":19.53,"s":"r"},{"f":5.79e-16,"r":20.89,"s":"r"},{"f":8.83e-16,"r":20.93,"s":"r"},{"f":8.83e-16,"r":20.54,"s":"r"},{"f":9.8e-16,"r":20.47,"s":"r"},
      {"f":1.69e-15,"r":20.83,"s":"r"},{"f":1.72e-15,"r":20.54,"s":"r"},{"f":1.03e-15,"r":20.50,"s":"r"},{"f":1.15e-15,"r":20.54,"s":"r"},{"f":2.67e-15,"r":20.89,"s":"r"},{"f":2.97e-15,"r":20.63,"s":"r"},{"f":4.07e-15,"r":20.86,"s":"r"},{"f":4.52e-15,"r":20.99,"s":"r"},{"f":5.21e-15,"r":20.96,"s":"r"},{"f":4.85e-15,"r":20.60,"s":"r"},{"f":4.85e-15,"r":20.41,"s":"r"},{"f":4.40e-15,"r":20.38,"s":"r"},{"f":6.56e-15,"r":20.41,"s":"r"},{"f":5.99e-15,"r":20.57,"s":"r"},{"f":6.90e-15,"r":20.80,"s":"r"},{"f":7.93e-15,"r":20.60,"s":"r"},{"f":8.82e-15,"r":20.41,"s":"r"},{"f":8.22e-15,"r":20.02,"s":"r"},{"f":9.13e-15,"r":20.15,"s":"r"},{"f":3.53e-15,"r":20.12,"s":"r"},{"f":4.07e-15,"r":20.24,"s":"r"},{"f":3.18e-15,"r":19.46,"s":"r"},{"f":7.26e-15,"r":19.53,"s":"r"},
      {"f":2.11e-14,"r":23.50,"s":"r"},{"f":1.37e-14,"r":23.38,"s":"r"},{"f":1.11e-14,"r":23.14,"s":"r"},{"f":1.27e-14,"r":23.18,"s":"r"},{"f":1.21e-14,"r":22.88,"s":"r"},{"f":1.42e-14,"r":22.88,"s":"r"},{"f":1.49e-14,"r":22.91,"s":"r"},{"f":2.21e-14,"r":22.97,"s":"r"},{"f":1.66e-14,"r":22.64,"s":"r"},{"f":1.09e-14,"r":22.46,"s":"r"},{"f":1.52e-14,"r":22.27,"s":"r"},{"f":2.11e-14,"r":22.07,"s":"r"},{"f":2.32e-14,"r":21.89,"s":"r"},{"f":1.39e-14,"r":21.89,"s":"r"},{"f":1.07e-14,"r":21.91,"s":"r"},{"f":2.48e-14,"r":21.47,"s":"r"},{"f":7.25e-14,"r":21.30,"s":"r"},{"f":2.53e-14,"r":21.15,"s":"r"},
      {"f":1.17e-14,"r":21.23,"s":"r"},{"f":1.25e-14,"r":21.16,"s":"r"},{"f":1.34e-14,"r":20.96,"s":"r"},{"f":1.44e-14,"r":20.90,"s":"r"},{"f":1.55e-14,"r":20.77,"s":"r"},{"f":1.66e-14,"r":20.96,"s":"r"},{"f":1.78e-14,"r":21.16,"s":"r"},{"f":1.27e-14,"r":20.90,"s":"r"},{"f":1.49e-14,"r":21.06,"s":"r"},{"f":2.05e-14,"r":21.06,"s":"r"},{"f":2.44e-14,"r":20.67,"s":"r"},{"f":1.09e-14,"r":20.61,"s":"r"},{"f":1.30e-14,"r":20.58,"s":"r"},{"f":2.05e-14,"r":20.61,"s":"r"},{"f":2.08e-14,"r":20.51,"s":"r"},{"f":1.39e-14,"r":20.35,"s":"r"},{"f":1.63e-14,"r":20.41,"s":"r"},{"f":2.67e-14,"r":20.28,"s":"r"},{"f":3.12e-14,"r":20.28,"s":"r"},{"f":3.07e-14,"r":20.19,"s":"r"},{"f":1.25e-14,"r":20.12,"s":"r"},{"f":1.75e-14,"r":20.09,"s":"r"},{"f":2.08e-14,"r":20.09,"s":"r"},{"f":1.72e-14,"r":19.96,"s":"r"},{"f":3.23e-14,"r":19.93,"s":"r"},{"f":1.15e-13,"r":19.99,"s":"r"},{"f":1.09e-14,"r":19.86,"s":"r"},{"f":3.47e-14,"r":19.57,"s":"r"},{"f":1.19e-14,"r":19.57,"s":"r"},{"f":9.44e-14,"r":19.54,"s":"r"},{"f":2.44e-14,"r":19.44,"s":"r"},{"f":1.11e-14,"r":19.37,"s":"r"},{"f":4.06e-14,"r":17.89,"s":"r"},
      {"f":2.37e-16,"r":21.89,"s":"a"},{"f":2.45e-16,"r":21.39,"s":"a"},{"f":1.37e-16,"r":21.10,"s":"a"},{"f":1.57e-16,"r":23.38,"s":"a"},{"f":2.09e-16,"r":20.63,"s":"a"},{"f":2.78e-16,"r":20.43,"s":"a"},{"f":3.81e-16,"r":19.89,"s":"a"},{"f":4.37e-16,"r":20.32,"s":"a"},{"f":4.06e-16,"r":19.05,"s":"a"},{"f":5.40e-16,"r":19.11,"s":"a"},{"f":6.67e-16,"r":20.08,"s":"a"},{"f":2.72e-16,"r":17.39,"s":"a"},{"f":6.06e-16,"r":17.68,"s":"a"},{"f":7.24e-16,"r":17.06,"s":"a"},{"f":1.04e-15,"r":17.20,"s":"a"},{"f":1.49e-16,"r":21.0,"s":"a"},{"f":2.64e-16,"r":20.86,"s":"a"},{"f":2.93e-16,"r":21.58,"s":"a"},{"f":3.46e-16,"r":19.17,"s":"a"},{"f":4.28e-16,"r":18.87,"s":"a"},{"f":1.47e-15,"r":20.22,"s":"a"},{"f":3.19e-16,"r":22.42,"s":"a"},{"f":4.15e-16,"r":21.45,"s":"a"}
    ],
    "solid": [
      {"g":"lo","f":1e-16,"r":24},{"g":"lo","f":2.95e-13,"r":15.76},
      {"g":"hi","f":1e-14,"r":24},{"g":"hi","f":2.95e-13,"r":20.57}
    ],
    "dash": [{"f":1e-15,"r":24},{"f":2.95e-13,"r":18.3}],
    "labels": [
      {"f":2.64e-13,"r":23.14,"t":"COSMOS","k":"c"},
      {"f":1.19e-14,"r":16.0,"t":"VST-Selected","k":"v"},
      {"f":1.22e-14,"r":15.44,"t":"Chandra-Selected","k":"h"}
    ]
  },
  "resolve": {"axis": {"x": "independent", "y": "independent"}},
  "layer": [
    {
      "data": {"name": "pts"},
      "transform": [{"filter": "datum.s == 'b'"}],
      "mark": {"type": "point", "shape": "circle", "filled": true, "size": 85, "color": "#a8bcd9", "opacity": 1, "clip": true},
      "encoding": {
        "x": {"field": "f", "type": "quantitative", "scale": {"type": "log", "domain": [1e-16, 2.95e-13], "nice": false},
          "axis": {"orient": "bottom", "values": [1e-16, 1e-15, 1e-14, 1e-13], "tickSize": 8, "labelFontSize": 30, "labelPadding": 15, "labelFlush": false,
            "labelExpr": "datum.value < 3e-16 ? '10⁻¹⁶' : datum.value < 3e-15 ? '10⁻¹⁵' : datum.value < 3e-14 ? '10⁻¹⁴' : '10⁻¹³'",
            "title": "Soft X-ray Flux (0.5-2 keV) [erg s⁻¹ cm⁻²]", "titleFontSize": 34, "titlePadding": 12, "titleX": 339, "titleAlign": "center"}},
        "y": {"field": "r", "type": "quantitative", "scale": {"domain": [15, 24], "nice": false, "zero": false},
          "axis": {"orient": "left", "values": [16, 18, 20, 22, 24], "tickSize": 8, "labelFontSize": 30, "labelPadding": 9, "title": "R [ABmag]", "titleFontSize": 30, "titlePadding": 10, "titleY": 218}}
      }
    },
    {
      "data": {"name": "pts"},
      "transform": [{"filter": "datum.s == 'a'"}],
      "mark": {"type": "point", "shape": "M-1,0L-0.35,-0.5L-0.35,-0.14L1,-0.14L1,0.14L-0.35,0.14L-0.35,0.5Z", "filled": true, "size": 529, "color": "#a8bcd9", "opacity": 1, "clip": true},
      "encoding": {
        "x": {"field": "f", "type": "quantitative", "scale": {"type": "log", "domain": [1e-16, 2.95e-13], "nice": false}, "axis": null},
        "y": {"field": "r", "type": "quantitative", "scale": {"domain": [15, 24], "nice": false, "zero": false}, "axis": null}
      }
    },
    {
      "data": {"name": "pts"},
      "transform": [{"filter": "datum.s == 'r'"}],
      "mark": {"type": "point", "shape": "circle", "filled": true, "size": 85, "color": "#e87a7b", "opacity": 1, "clip": true},
      "encoding": {
        "x": {"field": "f", "type": "quantitative", "scale": {"type": "log", "domain": [1e-16, 2.95e-13], "nice": false},
          "axis": {"orient": "bottom", "values": [2e-16,3e-16,4e-16,5e-16,6e-16,7e-16,8e-16,9e-16,2e-15,3e-15,4e-15,5e-15,6e-15,7e-15,8e-15,9e-15,2e-14,3e-14,4e-14,5e-14,6e-14,7e-14,8e-14,9e-14,2e-13], "tickSize": 4, "labels": false, "title": null}},
        "y": {"field": "r", "type": "quantitative", "scale": {"domain": [15, 24], "nice": false, "zero": false}, "axis": null}
      }
    },
    {
      "data": {"name": "solid"},
      "mark": {"type": "line", "color": "#111111", "strokeWidth": 2.2, "clip": true},
      "encoding": {
        "x": {"field": "f", "type": "quantitative", "scale": {"type": "log", "domain": [1e-16, 2.95e-13], "nice": false}, "axis": null},
        "y": {"field": "r", "type": "quantitative", "scale": {"domain": [15, 24], "nice": false, "zero": false}, "axis": null},
        "detail": {"field": "g"}
      }
    },
    {
      "data": {"name": "dash"},
      "mark": {"type": "line", "color": "#111111", "strokeWidth": 2.2, "strokeDash": [12, 5], "clip": true},
      "encoding": {
        "x": {"field": "f", "type": "quantitative", "scale": {"type": "log", "domain": [1e-16, 2.95e-13], "nice": false}, "axis": null},
        "y": {"field": "r", "type": "quantitative", "scale": {"domain": [15, 24], "nice": false, "zero": false}, "axis": null}
      }
    },
    {
      "data": {"values": [{"r": 22.38}]},
      "mark": {"type": "rule", "color": "#ff0d0d", "strokeWidth": 4, "strokeDash": [22, 11]},
      "encoding": {
        "y": {"field": "r", "type": "quantitative", "scale": {"domain": [15, 24], "nice": false, "zero": false}, "axis": null}
      }
    },
    {
      "data": {"values": [{"f": 1e-14}]},
      "mark": {"type": "rule", "color": "#ee2a35", "strokeWidth": 3.5, "strokeDash": [7, 3]},
      "encoding": {
        "x": {"field": "f", "type": "quantitative", "scale": {"type": "log", "domain": [1e-16, 2.95e-13], "nice": false}, "axis": null}
      }
    },
    {
      "data": {"name": "labels"},
      "transform": [{"filter": "datum.k == 'c'"}],
      "mark": {"type": "text", "align": "right", "baseline": "alphabetic", "font": "Liberation Sans", "fontSize": 36, "color": "#5a5a5a"},
      "encoding": {
        "x": {"field": "f", "type": "quantitative", "scale": {"type": "log", "domain": [1e-16, 2.95e-13], "nice": false}, "axis": null},
        "y": {"field": "r", "type": "quantitative", "scale": {"domain": [15, 24], "nice": false, "zero": false}, "axis": null},
        "text": {"field": "t"}
      }
    },
    {
      "data": {"name": "labels"},
      "transform": [{"filter": "datum.k != 'c'"}],
      "mark": {"type": "text", "align": "left", "baseline": "alphabetic", "font": "DejaVu Sans", "fontSize": 29},
      "encoding": {
        "x": {"field": "f", "type": "quantitative", "scale": {"type": "log", "domain": [1e-16, 2.95e-13], "nice": false}, "axis": null},
        "y": {"field": "r", "type": "quantitative", "scale": {"domain": [15, 24], "nice": false, "zero": false}, "axis": null},
        "text": {"field": "t"},
        "color": {"field": "k", "type": "nominal", "scale": {"domain": ["v", "h"], "range": ["#b8485a", "#6a80d2"]}, "legend": null}
      }
    }
  ]
}
